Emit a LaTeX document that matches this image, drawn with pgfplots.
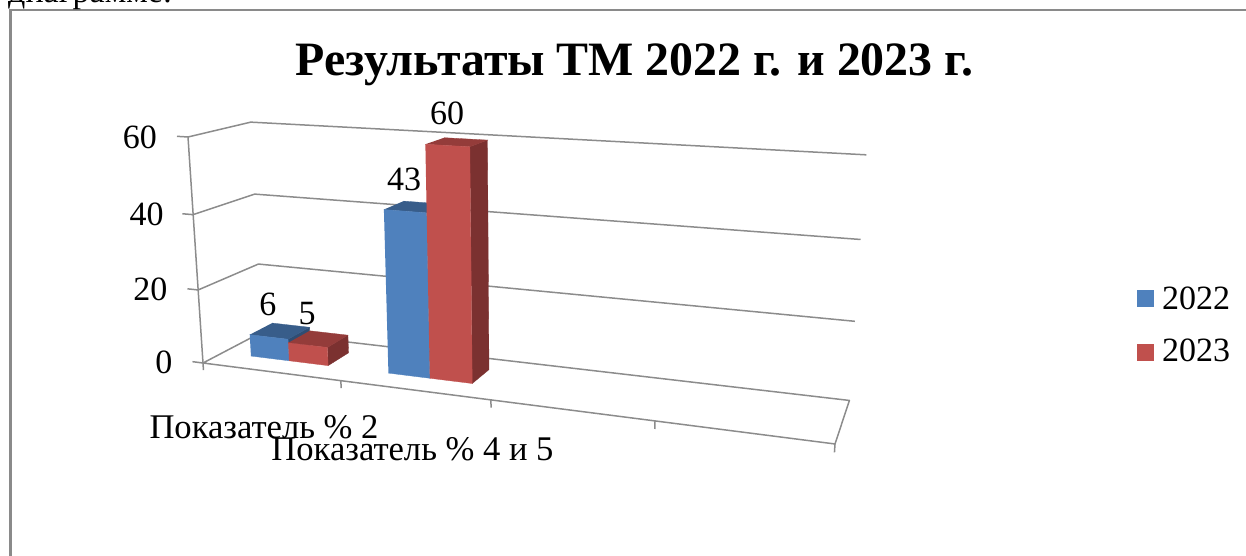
\documentclass[border=0pt]{standalone}
\usepackage{fontspec}
\setmainfont{Liberation Serif}
\usepackage{pgfplots}
\pgfplotsset{compat=1.18}

\definecolor{gridc}{HTML}{8C8C8C}
\definecolor{framec}{HTML}{8A8A8A}
\definecolor{bluef}{HTML}{4F81BD}
\definecolor{bluet}{HTML}{385D8A}
\definecolor{blues}{HTML}{2F4D73}
\definecolor{redf}{HTML}{C0504D}
\definecolor{redt}{HTML}{943C3A}
\definecolor{reds}{HTML}{7B3130}

% perspective of the 3D chart: u along categories, v into depth, val = value
\def\DEN{(1-.163*\thisrow{u}+.08*\thisrow{v}-.04505*\thisrow{val}/60)}
\def\PX{(203+495.9*\thisrow{u}+80*\thisrow{v}-23.47*\thisrow{val}/60)/\DEN}
\def\PY{(363+8.6*\thisrow{u}-4.4*\thisrow{v}-232.2*\thisrow{val}/60)/\DEN}

\newcommand\face[2]{\addplot[fill=#1,draw=#1,line width=.3pt,forget plot] table {u v val\\ #2};}
% front, top, side colours; left and right edge; value
\newcommand\onebar[6]{%
  \face{#3}{#5 .32 0\\ #5 .71 0\\ #5 .71 #6\\ #5 .32 #6\\}
  \face{#2}{#4 .32 #6\\ #5 .32 #6\\ #5 .71 #6\\ #4 .71 #6\\}
  \face{#1}{#4 .32 0\\ #5 .32 0\\ #5 .32 #6\\ #4 .32 #6\\}
}
\newcommand\gline[1]{\addplot[gridc,line width=1.5pt,line join=round,forget plot] table {u v val\\ #1};}

\begin{document}
\begin{tikzpicture}[x=1pt,y=1pt]
\clip (0,0) rectangle (1246,555);
\begin{axis}[
    at={(0,0)},anchor=south west,
    scale only axis,
    width=1246pt,height=555pt,
    xmin=0,xmax=1246,ymin=0,ymax=555,
    y dir=reverse,
    hide axis,
    clip=false,
    no markers,
    table/row sep=\\,
    table/x expr=\PX,
    table/y expr=\PY,
]
% walls and floor
\gline{0 0 60\\ 0 1 60\\ 1 1 60\\}
\gline{0 0 40\\ 0 1 40\\ 1 1 40\\}
\gline{0 0 20\\ 0 1 20\\ 1 1 20\\}
\gline{0 0 0\\ 0 1 0\\ 1 1 0\\ 1 0 0\\ 0 0 0\\}
\gline{0 0 0\\ 0 0 60\\}
% ticks
\gline{-.02 0 60\\ 0 0 60\\}
\gline{-.02 0 40\\ 0 0 40\\}
\gline{-.02 0 20\\ 0 0 20\\}
\gline{-.02 0 0\\ 0 0 0\\}
\gline{0 0 0\\ 0 0 -2\\}
\gline{.25 0 0\\ .25 0 -2\\}
\gline{.5 0 0\\ .5 0 -2\\}
\gline{.75 0 0\\ .75 0 -2\\}
\gline{1 0 0\\ 1 0 -2\\}
% bars
\onebar{bluef}{bluet}{blues}{.0536}{.125}{6}
\onebar{redf}{redt}{reds}{.125}{.1964}{5}
\onebar{bluef}{bluet}{blues}{.3036}{.375}{43}
\onebar{redf}{redt}{reds}{.375}{.4464}{60}
% value labels above the bars
\addplot[draw=none,forget plot,point meta=explicit symbolic,
    nodes near coords,
    nodes near coords style={anchor=base,yshift=21pt,font=\fontsize{34}{36}\selectfont,inner sep=0pt}]
  table[meta=val] {u v val\\ .0875 .32 6\\ .1595 .32 5\\ .3375 .32 43\\ .4100 .32 60\\};
% value axis labels
\addplot[draw=none,forget plot,point meta=explicit symbolic,
    nodes near coords,
    nodes near coords style={anchor=base east,xshift=-20pt,yshift=-12pt,font=\fontsize{34}{36}\selectfont,inner sep=0pt}]
  table[meta=val] {u v val\\ -.02 0 0\\ -.02 0 20\\ -.017 0 40\\ -.02 0 60\\};
% legend
\fill[bluef] (axis cs:1137,290) rectangle (axis cs:1154,307);
\fill[redf] (axis cs:1137,344) rectangle (axis cs:1154,361);
\node[anchor=base west,inner sep=0pt,font=\fontsize{34}{36}\selectfont] at (axis cs:1162,309.5) {2022};
\node[anchor=base west,inner sep=0pt,font=\fontsize{34}{36}\selectfont] at (axis cs:1162,361.5) {2023};
% page frame and text
\draw[framec,line width=2.5pt] (axis cs:10.5,560) -- (axis cs:10.5,10) -- (axis cs:1250,10);
\node[anchor=base west,inner sep=0pt,font=\fontsize{34}{36}\selectfont] at (axis cs:8,2) {диаграмме:};
\node[anchor=base,inner sep=0pt,font=\fontsize{47.9}{50}\selectfont\bfseries] at (axis cs:634.5,75) {Результаты ТМ 2022 г. и 2023 г.};
\node[anchor=base,inner sep=0pt,font=\fontsize{34.6}{36}\selectfont] at (axis cs:264,438) {Показатель \% 2};
\node[anchor=base,inner sep=0pt,font=\fontsize{34.6}{36}\selectfont] at (axis cs:412.5,460) {Показатель \% 4 и 5};
\end{axis}
\end{tikzpicture}
\end{document}
